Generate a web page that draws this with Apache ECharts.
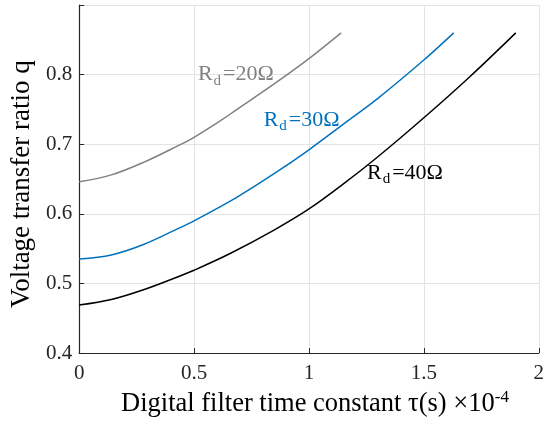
<!DOCTYPE html>
<html><head><meta charset="utf-8">
<script src="https://cdn.jsdelivr.net/npm/echarts@6/dist/echarts.min.js"></script>
<style>html,body{margin:0;padding:0;background:#fff}#c{width:547px;height:423px}</style>
</head><body><div id="c"></div>
<script>
const xTicks = [0, 0.5, 1, 1.5, 2];
const yTicks = [0.4, 0.5, 0.6, 0.7, 0.8];
const rd20 = [[0,0.646],[0.14,0.656],[0.28,0.674],[0.425,0.697],[0.5,0.71],[0.625,0.736],[0.682,0.749],[0.85,0.787],[1.0,0.823],[1.14,0.86]];
const rd30 = [[0,0.535],[0.14,0.541],[0.28,0.556],[0.425,0.578],[0.5,0.59],[0.682,0.623],[0.85,0.658],[1.0,0.692],[1.15,0.729],[1.3,0.766],[1.5,0.821],[1.63,0.86]];
const rd40 = [[0,0.469],[0.14,0.477],[0.28,0.491],[0.425,0.509],[0.5,0.519],[0.657,0.543],[0.85,0.577],[1.0,0.607],[1.15,0.643],[1.3,0.682],[1.5,0.738],[1.7,0.797],[1.9,0.86]];
const seriesNames = ['20', '30', '40'];
const labelPos = [[0.682, 0.8], [0.968, 0.735], [1.418, 0.659]];
const colors = ['#808080', '#0072BD', '#000000'];
const FONT = 'Liberation Serif';

const chart = echarts.init(document.getElementById('c'));
function mkSeries(data, i) {
  return {
    type: 'line', data: data, showSymbol: false, smooth: 0.35,
    lineStyle: { color: colors[i], width: 1.5 }, itemStyle: { color: colors[i] },
    z: 3,
    markPoint: {
      symbol: 'circle', symbolSize: 0, silent: true,
      data: [{ coord: labelPos[i] }],
      label: {
        show: true, position: 'inside',
        formatter: '{a|R}{b|d}{a|=' + seriesNames[i] + 'Ω}',
        rich: {
          a: { fontFamily: FONT, fontSize: 22, color: colors[i] },
          b: { fontFamily: FONT, fontSize: 15, color: colors[i], padding: [13, 2, 0, 1] }
        }
      }
    }
  };
}
chart.setOption({
  animation: false,
  backgroundColor: '#fff',
  grid: { left: 77, right: 4, top: 5, bottom: 67 },
  xAxis: {
    type: 'value', min: 0, max: 2, interval: 0.5,
    name: 'Digital filter time constant τ(s) ×10{s|-4}',
    nameLocation: 'middle', nameGap: 30,
    nameTextStyle: { fontFamily: FONT, fontSize: 26.5, color: '#000', padding: [0, 0, 0, 12],
      rich: { s: { fontFamily: FONT, fontSize: 17, color: '#000', padding: [0, 0, 14, 0] } } },
    axisLine: { show: true, onZero: false, lineStyle: { color: '#262626', width: 1.2 } },
    axisTick: { show: true, inside: true, length: 5, lineStyle: { color: '#262626' } },
    axisLabel: { fontFamily: FONT, fontSize: 21, color: '#262626', margin: 10,
      formatter: v => xTicks.includes(+v.toFixed(2)) ? String(+v.toFixed(2)) : '' },
    splitLine: { show: true, lineStyle: { color: '#e3e3e3', width: 1 } }
  },
  yAxis: {
    type: 'value', min: 0.4, max: 0.9, interval: 0.1,
    name: 'Voltage transfer ratio q', nameLocation: 'middle', nameGap: 44,
    nameTextStyle: { fontFamily: FONT, fontSize: 27, color: '#000', padding: [0, 10, 0, 0] },
    axisLine: { show: true, onZero: false, lineStyle: { color: '#262626', width: 1.2 } },
    axisTick: { show: true, inside: true, length: 5, lineStyle: { color: '#262626' } },
    axisLabel: { fontFamily: FONT, fontSize: 21, color: '#262626', margin: 7,
      formatter: v => yTicks.includes(+v.toFixed(2)) ? (+v.toFixed(2)).toFixed(1) : '' },
    splitLine: { show: true, lineStyle: { color: '#e3e3e3', width: 1 } }
  },
  series: [mkSeries(rd20, 0), mkSeries(rd30, 1), mkSeries(rd40, 2)]
});
</script></body></html>
